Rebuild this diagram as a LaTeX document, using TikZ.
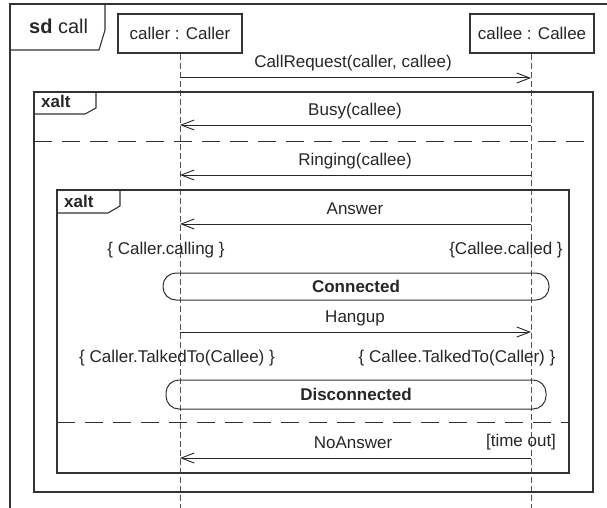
\documentclass[tikz,border=0pt]{standalone}
\usepackage{fontspec}
\setmainfont{Liberation Sans}
\usetikzlibrary{arrows.meta}
\definecolor{ink}{HTML}{262626}
\definecolor{frm}{HTML}{333333}
\definecolor{life}{HTML}{505050}
\tikzset{
  frameline/.style={draw=frm, line width=1.1pt},
  objbox/.style={draw=frm, line width=1.1pt, minimum width=124pt, minimum height=39pt, inner sep=0pt, text=ink, font=\fontsize{17}{20}\selectfont},
  lifeline/.style={draw=life, line width=1pt, dash pattern=on 6pt off 3pt},
  msg/.style={draw=ink, line width=1pt, -{Straight Barb[length=13pt,width=10pt,line width=0.9pt]}},
  lbl/.style={anchor=base, inner sep=0pt, text=ink, font=\fontsize{17}{20}\selectfont},
  blbl/.style={anchor=base, inner sep=0pt, text=ink, font=\fontsize{17}{20}\selectfont\bfseries},
  sep/.style={draw=frm, line width=1pt, dash pattern=on 18pt off 10pt},
  statebox/.style={draw=frm, line width=1pt, rounded corners=13pt}
}
\begin{document}
\begin{tikzpicture}[x=1pt, y=-1pt]
\useasboundingbox (0,0) rectangle (607,508);
\begin{scope}
\clip (0,0) rectangle (607,508);
% outer sd frame (cropped on right and bottom)
\draw[frameline] (10,530) -- (10,4) -- (630,4);
\draw[frameline] (10,50) -- (99,50) -- (105,30) -- (105,4);
\node[lbl, anchor=base west, font=\fontsize{20}{24}\selectfont] (sdlbl) at (29,34) {\textbf{sd} call};

% lifeline heads
\node[objbox] (caller) at (180,33.5) {caller : Caller};
\node[objbox] (callee) at (532,33.5) {callee : Callee};
\coordinate (callerEnd) at (180,515);
\coordinate (calleeEnd) at (531,515);
\draw[lifeline] (caller.south) -- (callerEnd);
\draw[lifeline] (callee.south -| calleeEnd) -- (calleeEnd);

% outer xalt
\draw[frameline] (34,92) rectangle (593,492);
\draw[frameline] (34,114) -- (85,114) -- (96,108) -- (96,92);
\node[blbl, anchor=base west] (xalt1) at (41,108) {xalt};
\draw[sep] (34,141) -- (593,141);

% inner xalt
\draw[frameline] (57,190) rectangle (569,473);
\draw[frameline] (57,213) -- (108,213) -- (120,206) -- (120,190);
\node[blbl, anchor=base west] (xalt2) at (64,207) {xalt};
\draw[sep] (57,422) -- (569,422);

% message coordinates
\coordinate (m1a) at (180,78);  \coordinate (m1b) at (531,78);
\coordinate (m2a) at (180,125); \coordinate (m2b) at (531,125);
\coordinate (m3a) at (180,175); \coordinate (m3b) at (531,175);
\coordinate (m4a) at (180,224); \coordinate (m4b) at (531,224);
\coordinate (m5a) at (180,332); \coordinate (m5b) at (531,332);
\coordinate (m6a) at (180,458); \coordinate (m6b) at (531,458);

\draw[msg] (m1a) -- (m1b);
\node[lbl] (t1) at (353,68) {CallRequest(caller, callee)};
\draw[msg] (m2b) -- (m2a);
\node[lbl] (t2) at (355,115) {Busy(callee)};
\draw[msg] (m3b) -- (m3a);
\node[lbl] (t3) at (355,165) {Ringing(callee)};
\draw[msg] (m4b) -- (m4a);
\node[lbl] (t4) at (355,214) {Answer};
\draw[msg] (m5a) -- (m5b);
\node[lbl] (t5) at (355,322) {Hangup};
\draw[msg] (m6b) -- (m6a);
\node[lbl] (t6) at (353,448) {NoAnswer};
\node[lbl] (guard) at (521,446) {[time out]};

% constraints
\node[lbl] (c1) at (166,254) {\{ Caller.calling \}};
\node[lbl] (c2) at (506,254) {\{Callee.called \}};
\node[lbl] (c3) at (177,362) {\{ Caller.TalkedTo(Callee) \}};
\node[lbl] (c4) at (457,362) {\{ Callee.TalkedTo(Caller) \}};

% states
\draw[statebox] (163,273) rectangle (549,300);
\node[blbl] (s1) at (356,292) {Connected};
\draw[statebox] (166,380) rectangle (546,409);
\node[blbl] (s2) at (356,400) {Disconnected};
\end{scope}
\end{tikzpicture}
\end{document}
